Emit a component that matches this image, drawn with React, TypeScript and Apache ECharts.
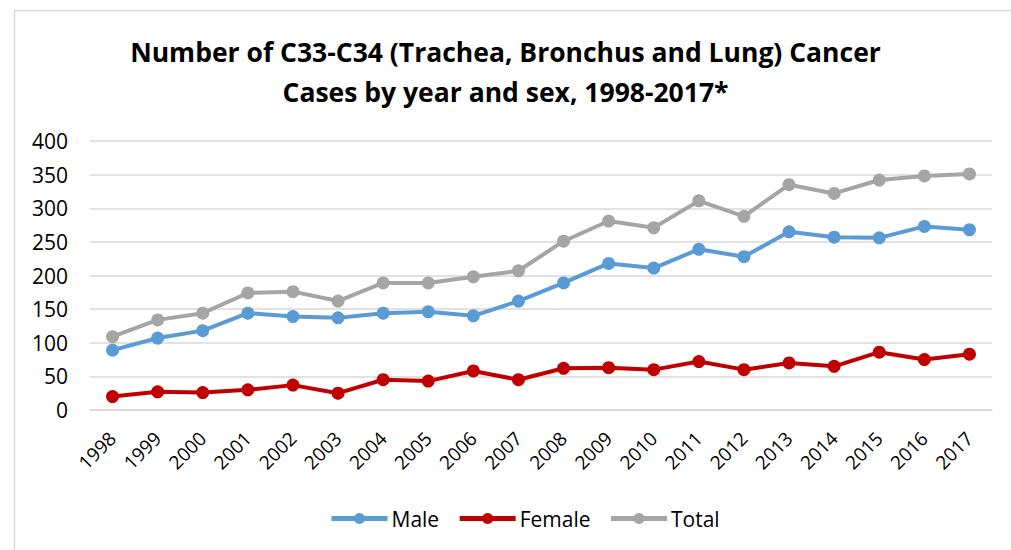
import React, { useEffect, useRef } from "react";
import * as echarts from "echarts";

const years = ["1998","1999","2000","2001","2002","2003","2004","2005","2006","2007","2008","2009","2010","2011","2012","2013","2014","2015","2016","2017"];
const male = [89,107,118,144,139,137,144,146,140,162,189,218,211,239,228,265,257,256,273,268];
const female = [20,27,26,30,37,25,45,43,58,45,62,63,60,72,60,70,65,86,75,83];
const total = [109,134,144,174,176,162,189,189,198,207,251,281,271,311,288,335,322,342,348,351];
const titleLines = ["Number of C33-C34 (Trachea, Bronchus and Lung) Cancer", "Cases by year and sex, 1998-2017*"];

const FONT = "'Open Sans', 'Liberation Sans', sans-serif";

export default function App() {
  const ref = useRef<HTMLDivElement>(null);
  useEffect(() => {
    if (!ref.current) return;
    const chart = echarts.init(ref.current, undefined, { renderer: "svg" });
    const mk = (name: string, data: number[], color: string) => ({
      name,
      type: "line",
      data,
      symbol: "circle",
      symbolSize: 13,
      lineStyle: { width: 4, color },
      itemStyle: { color },
    });
    chart.setOption({
      animation: false,
      textStyle: { fontFamily: FONT },
      title: {
        text: titleLines.join("\n"),
        left: "center",
        top: 27,
        textStyle: { fontSize: 26.5, fontWeight: "bold", color: "#000", lineHeight: 40, fontFamily: FONT },
      },
      graphic: [
        { type: "rect", shape: { x: 14.5, y: 10.5, width: 1100, height: 700 }, style: { fill: "none", stroke: "#d9d9d9", lineWidth: 1.5 }, silent: true },
      ],
      legend: {
        top: 503,
        left: 324,
        itemWidth: 56,
        itemHeight: 14,
        itemGap: 18,
        lineStyle: { width: 5 },
        textStyle: { fontSize: 21, color: "#000", fontFamily: FONT, padding: [0, 0, 0, -1] },
        data: ["Male", "Female", "Total"],
      },
      grid: { left: 90, right: 19, top: 141, bottom: 140, containLabel: false },
      xAxis: {
        type: "category",
        data: years,
        boundaryGap: true,
        axisLine: { show: true, lineStyle: { color: "#d9d9d9", width: 1.5 } },
        axisTick: { show: false },
        axisLabel: { rotate: 45, fontSize: 19, color: "#000", margin: 25, fontFamily: FONT },
      },
      yAxis: {
        type: "value",
        min: 0,
        max: 400,
        interval: 50,
        axisLine: { show: false },
        axisTick: { show: false },
        splitLine: { lineStyle: { color: "#d9d9d9", width: 1.5 } },
        axisLabel: { fontSize: 21, color: "#000", margin: 22, fontFamily: FONT },
      },
      series: [
        mk("Male", male, "#5b9bd5"),
        mk("Female", female, "#c00000"),
        mk("Total", total, "#a5a5a5"),
      ],
    });
    return () => chart.dispose();
  }, []);
  return <div ref={ref} style={{ width: 1011, height: 550, position: "absolute", left: 0, top: 0 }} />;
}
